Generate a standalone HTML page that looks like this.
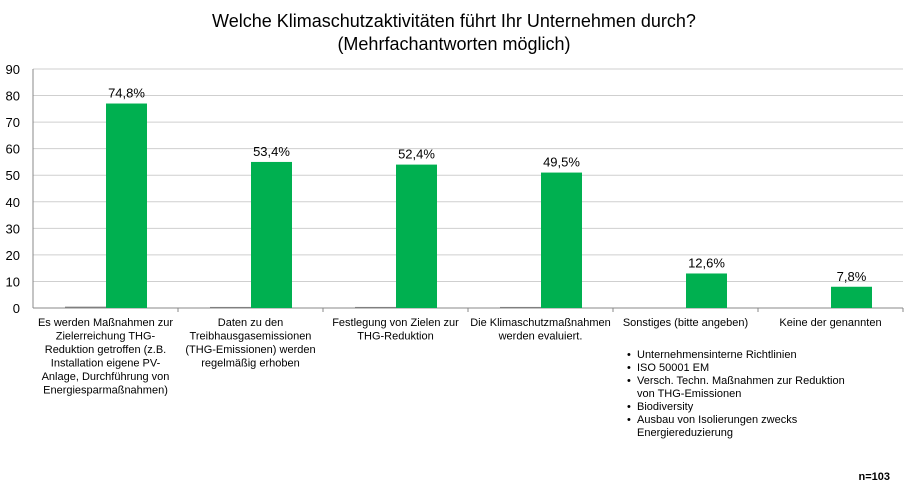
<!DOCTYPE html>
<html><head><meta charset="utf-8"><style>
body{margin:0;background:#fff;width:908px;height:482px;overflow:hidden;font-family:"Liberation Sans",Arial,sans-serif}
</style></head><body>
<svg id="chart" width="908" height="482" xmlns="http://www.w3.org/2000/svg" font-family="Liberation Sans, Arial, sans-serif"></svg>
<script>
const categories=[["Es werden Maßnahmen zur","Zielerreichung THG-","Reduktion getroffen (z.B.","Installation eigene PV-","Anlage, Durchführung von","Energiesparmaßnahmen)"],["Daten zu den","Treibhausgasemissionen","(THG-Emissionen) werden","regelmäßig erhoben"],["Festlegung von Zielen zur","THG-Reduktion"],["Die Klimaschutzmaßnahmen","werden evaluiert."],["Sonstiges (bitte angeben)"],["Keine der genannten"]];
const greyValues=[0.5,0.4,0.4,0.4,0,0];
const greenValues=[77,55,54,51,13,8];
const pctLabels=["74,8%","53,4%","52,4%","49,5%","12,6%","7,8%"];
const yTicks=[0,10,20,30,40,50,60,70,80,90];
const svg=document.getElementById('chart');
const NS='http://www.w3.org/2000/svg';
const x0=33,catW=145,y0=308,yTop=69,yMax=90;
const y=v=>y0-(v/yMax)*(y0-yTop);
const xc=i=>x0+i*catW;
function mk(tag,attrs,txt){const e=document.createElementNS(NS,tag);for(const k in attrs)e.setAttribute(k,attrs[k]);if(txt!==undefined)e.textContent=txt;svg.appendChild(e);return e;}
let t=mk('text',{x:454,y:27,'text-anchor':'middle','font-size':18,fill:'#000'},'Welche Klimaschutzaktivitäten führt Ihr Unternehmen durch?');


t=mk('text',{x:454,y:50,'text-anchor':'middle','font-size':18,fill:'#000'},'(Mehrfachantworten möglich)');


yTicks.forEach(v=>{
  const g=mk('line',{x1:x0,x2:x0+6*catW,y1:y(v),y2:y(v),stroke:v===0?'#888':'#cfcfcf','stroke-width':1});
  
  
  const l=mk('text',{x:20,y:y(v)+5,'text-anchor':'end','font-size':13,fill:'#000'},String(v));
  
  
});
const ax=mk('line',{x1:x0,x2:x0,y1:yTop,y2:y0,stroke:'#888'});


categories.forEach((c,i)=>{
  const bx=xc(i)+32;
  if(greyValues[i]>0){
    const r=mk('rect',{x:bx,y:y(greyValues[i]),width:41,height:y0-y(greyValues[i]),fill:'#7f7f7f'});
    
    
  }
  const r=mk('rect',{x:bx+41,y:y(greenValues[i]),width:41,height:y0-y(greenValues[i]),fill:'#00b050'});
  
  
  const p=mk('text',{x:bx+61.5,y:y(greenValues[i])-6,'text-anchor':'middle','font-size':13,fill:'#000'},pctLabels[i]);
  
  
  const tk=mk('line',{x1:xc(i+1),x2:xc(i+1),y1:y0,y2:y0+4,stroke:'#888'});
  
  
  c.forEach((ln,j)=>{
    const e=mk('text',{x:xc(i)+catW/2,y:y0+18+j*13.5,'text-anchor':'middle','font-size':11,fill:'#000'},ln);
    
    
  });
});
const notes=[["Unternehmensinterne Richtlinien"],["ISO 50001 EM"],["Versch. Techn. Maßnahmen zur Reduktion","von THG-Emissionen"],["Biodiversity"],["Ausbau von Isolierungen zwecks","Energiereduzierung"]];
let ny=358;
notes.forEach(n=>{
  const b=mk('text',{x:627,y:ny,'font-size':11,fill:'#000'},'•');
  
  
  n.forEach(ln=>{
    const e=mk('text',{x:637,y:ny,'font-size':11,fill:'#000'},ln);
    
    
    ny+=13;
  });
});
const nn=mk('text',{x:890,y:480,'text-anchor':'end','font-size':11,'font-weight':'bold',fill:'#000'},'n=103');


</script>
</body></html>
